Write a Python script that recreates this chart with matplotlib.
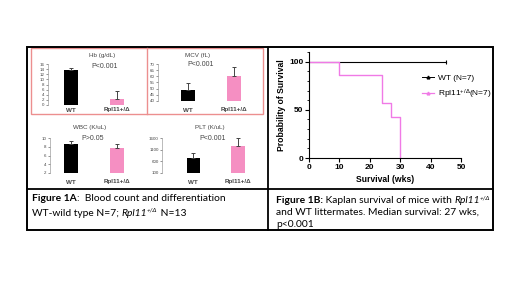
import matplotlib.pyplot as plt
from matplotlib.patches import Rectangle
from matplotlib.lines import Line2D

# panel A values (mean, error)
groupes = ["WT", "Rpl11+/Δ"]
hb_moy = [13.5, 2.5]
hb_err = [0.8, 3.0]
mcv_moy = [48.9, 60.3]
mcv_err = [5.9, 7.5]
wbc_moy = [8.7, 7.7]
wbc_err = [0.6, 1.0]
plt_moy = [730, 1260]
plt_err = [240, 330]

# panel B survival steps
wt_temps = [0, 45]
wt_surv = [100, 100]
rpl_temps = [0, 10, 24, 27, 30]
rpl_surv = [100, 85.7, 57.1, 42.9, 0]

W, H = 520, 292
ROSE = '#f58fc2'
VIOLET = '#f07ae6'
GRIS = '#444444'

plt.rcParams['font.family'] = ['Liberation Sans', 'DejaVu Sans']
plt.rcParams['mathtext.fontset'] = 'custom'
plt.rcParams['mathtext.rm'] = 'Liberation Sans'
plt.rcParams['mathtext.it'] = 'Liberation Sans:italic'
plt.rcParams['mathtext.bf'] = 'Liberation Sans:bold'
fig = plt.figure(figsize=(W / 100, H / 100), dpi=100)
rend = fig.canvas.get_renderer()


def px(x0, y0, x1, y1):
  return [x0 / W, 1 - y1 / H, (x1 - x0) / W, (y1 - y0) / H]


def fx(x):
  return x / W


def fy(y):
  return 1 - y / H


def petit_graph(box, moy, err, ylim, ticks, xlim, titre, pval, tx, ty, py, lab_y):
  ax = fig.add_axes(px(*box))
  ax.bar([0, 1], [m - ylim[0] for m in moy], bottom=ylim[0], width=0.3,
         color=['black', ROSE])
  ax.errorbar([0, 1], moy, yerr=[[0, 0], err], fmt='none', ecolor=GRIS,
              elinewidth=0.7, capsize=1.2, capthick=0.7)
  ax.set_ylim(ylim)
  ax.set_xlim(xlim)
  ax.set_yticks(ticks)
  ax.tick_params(axis='y', labelsize=3.2, length=1.5, width=0.4,
                 colors=GRIS, pad=1)
  ax.set_xticks([])
  for s in ['top', 'right', 'bottom']:
    ax.spines[s].set_visible(False)
  ax.spines['left'].set_linewidth(0.4)
  ax.spines['left'].set_color('#888888')
  ax.patch.set_alpha(0)
  fig.text(fx(tx), fy(ty), titre, fontsize=4.5, color=GRIS, ha='center', va='center')
  fig.text(fx(tx + 3), fy(py), pval, fontsize=5, color=GRIS, ha='center', va='center')
  x0 = box[0] + (0 - xlim[0]) / (xlim[1] - xlim[0]) * (box[2] - box[0])
  x1 = box[0] + (1 - xlim[0]) / (xlim[1] - xlim[0]) * (box[2] - box[0])
  fig.text(fx(x0), fy(lab_y), groupes[0], fontsize=4.5, color=GRIS, ha='center', va='center', weight='bold')
  fig.text(fx(x1), fy(lab_y), groupes[1], fontsize=4.5, color=GRIS, ha='center', va='center', weight='bold')
  return ax


petit_graph((48, 64, 140, 105), hb_moy, hb_err, (0, 16), range(0, 17, 2),
            (-0.5, 1.5), "Hb (g/dL)", "P<0.001", 102, 56, 66, 110)
petit_graph((158, 64, 265, 101), mcv_moy, mcv_err, (40, 70), range(40, 71, 5),
            (-0.65, 1.67), "MCV (fL)", "P<0.001", 198, 55, 65, 110)
petit_graph((50, 138, 140, 173), wbc_moy, wbc_err, (2, 10), range(2, 11, 2),
            (-0.45, 1.5), "WBC (K/uL)", "P>0.05", 90, 127, 139, 182)
petit_graph((162, 138, 265, 173), plt_moy, plt_err, (100, 1600), [100, 600, 1100, 1600],
            (-0.7, 1.6), "PLT (K/uL)", "P<0.001", 210, 127, 139, 182)

# survival curve
ax = fig.add_axes(px(309, 52, 461, 158))
ax.step(wt_temps, wt_surv, where='post', color='black', lw=0.8)
ax.plot([45], [100], marker='|', color='black', ms=3, mew=0.8)
ax.step(rpl_temps, rpl_surv, where='post', color=VIOLET, lw=1.0)
ax.set_xlim(0, 50)
ax.set_ylim(0, 110)
ax.set_xticks(range(0, 51, 10))
ax.set_yticks([0, 50, 100])
ax.set_yticks(range(0, 111, 10), minor=True)
ax.tick_params(labelsize=6, width=0.8, length=3, pad=1)
ax.tick_params(which='minor', width=0.6, length=1.5)
for t in ax.get_xticklabels() + ax.get_yticklabels():
  t.set_fontweight('bold')
for s in ['top', 'right']:
  ax.spines[s].set_visible(False)
ax.spines['left'].set_linewidth(0.8)
ax.spines['bottom'].set_linewidth(0.8)
ax.set_ylabel("Probability of Survival", fontsize=6.2, weight='bold', labelpad=2)
ax.set_xlabel("Survival (wks)", fontsize=6.2, weight='bold', labelpad=3)
ax.patch.set_alpha(0)
poignees = [Line2D([], [], color='black', lw=0.7, marker='^', ms=2),
            Line2D([], [], color=VIOLET, lw=0.9, marker='^', ms=2)]
ax.legend(poignees, ["WT (N=7)", r"Rpl11$^{+/\Delta}$(N=7)"], loc='upper left',
          bbox_to_anchor=(0.72, 0.82), frameon=False, fontsize=6,
          handlelength=1.5, handletextpad=0.5, labelspacing=0.6, borderaxespad=0)

# frames
def ligne(x0, y0, x1, y1, c='black', lw=1.3):
  fig.add_artist(Line2D([fx(x0), fx(x1)], [fy(y0), fy(y1)], color=c, lw=lw))

fig.add_artist(Rectangle((fx(31), fy(114)), fx(263) - fx(31), fy(48) - fy(114),
                         fill=False, ec='#ec8f8f', lw=1.0))
ligne(147, 48, 147, 114, '#ec8f8f', 1.0)
fig.add_artist(Rectangle((fx(27), fy(230)), fx(493) - fx(27), fy(47) - fy(230),
                         fill=False, ec='black', lw=1.4))
ligne(268, 47, 268, 230)
ligne(27, 189, 493, 189)


# captions: pieces of text put one after the other
def morceaux(x, y, parts, taille=7.4):
  for txt, style in parts:
    kw = dict(fontsize=taille, family=['Lato', 'DejaVu Sans'], va='baseline', ha='left')
    yy = y
    if 'b' in style:
      kw['weight'] = 'bold'
    if 'i' in style:
      kw['style'] = 'italic'
    if 's' in style:
      kw['fontsize'] = taille * 0.62
      yy = y - 4
    t = fig.text(fx(x), fy(yy), txt, **kw)
    x += t.get_window_extent(rend).width


morceaux(32, 201, [("Figure 1A", "b"), (":  Blood count and differentiation", "")])
morceaux(32, 216, [("WT-wild type N=7; ", ""), ("Rpl11", "i"), ("+/Δ", "is"), (" N=13", "")])
morceaux(276, 203, [("Figure 1B:", "b"), (" Kaplan survival of mice with ", ""), ("Rpl11", "i"), ("+/Δ", "is")])
morceaux(276, 215, [("and WT littermates. Median survival: 27 wks,", "")])
morceaux(276, 227, [("p<0.001", "")])

fig.savefig("out.png", dpi=100)
